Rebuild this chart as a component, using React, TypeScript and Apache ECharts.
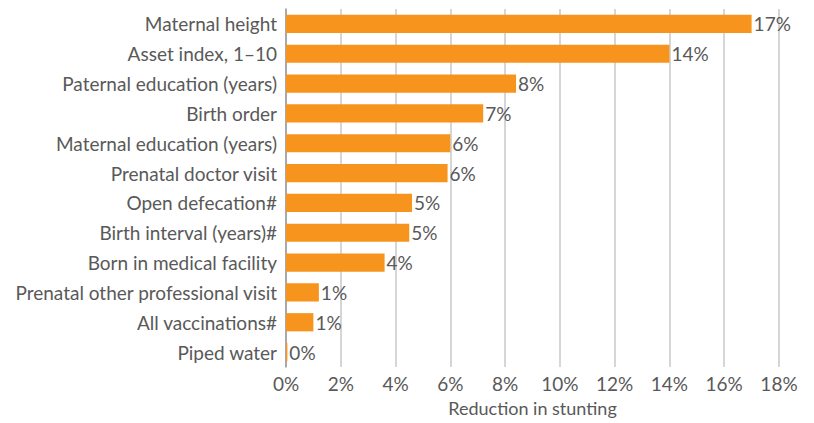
import React, { useEffect, useLayoutEffect, useRef } from "react";
import * as echarts from "echarts";

const categories = [
  "Maternal height",
  "Asset index, 1–10",
  "Paternal education (years)",
  "Birth order",
  "Maternal education (years)",
  "Prenatal doctor visit",
  "Open defecation#",
  "Birth interval (years)#",
  "Born in medical facility",
  "Prenatal other professional visit",
  "All vaccinations#",
  "Piped water",
];
const values = [17.0, 14.0, 8.4, 7.2, 6.0, 5.9, 4.6, 4.5, 3.6, 1.2, 1.0, 0.05];
const xTicks = [0, 2, 4, 6, 8, 10, 12, 14, 16, 18];
const axisTitle = "Reduction in stunting";

const FONT = "Lato";
const TEXT = "#595959";
const FS = 19;

export default function App() {
  const ref = useRef<HTMLDivElement>(null);
  useLayoutEffect(() => {
    document.body.style.margin = "0";
  }, []);
  useEffect(() => {
    const chart = echarts.init(ref.current!, null, { renderer: "svg" });
    chart.setOption({
      animation: false,
      grid: {
        left: 286,
        right: 35,
        top: 9,
        bottom: 56,
        containLabel: false,
        outerBoundsMode: "none",
      },
      xAxis: {
        type: "value",
        min: xTicks[0],
        max: xTicks[xTicks.length - 1],
        interval: 2,
        name: axisTitle,
        nameLocation: "middle",
        nameGap: 32,
        nameTextStyle: { color: TEXT, fontFamily: FONT, fontSize: 18 },
        axisLine: { show: false },
        axisTick: { show: false },
        axisLabel: {
          color: TEXT,
          fontFamily: FONT,
          fontSize: FS,
          margin: 7,
          formatter: (v: number) => `${v}%`,
        },
        splitLine: { show: true, lineStyle: { color: "#c8c8c8", width: 1.5 } },
      },
      yAxis: {
        type: "category",
        inverse: true,
        data: categories,
        axisLine: { show: true, lineStyle: { color: "#9a9a9a", width: 1.5 } },
        axisTick: { show: false },
        axisLabel: { color: TEXT, fontFamily: FONT, fontSize: FS, margin: 9 },
      },
      series: [
        {
          type: "bar",
          data: values,
          barCategoryGap: "39%",
          itemStyle: { color: "#F7941D" },
          label: {
            show: true,
            position: "right",
            distance: 2,
            color: TEXT,
            fontFamily: FONT,
            fontSize: FS,
            formatter: (p: any) => `${Math.round(p.value)}%`,
          },
        },
      ],
    });
    return () => chart.dispose();
  }, []);
  return <div ref={ref} style={{ width: 814, height: 423 }} />;
}
